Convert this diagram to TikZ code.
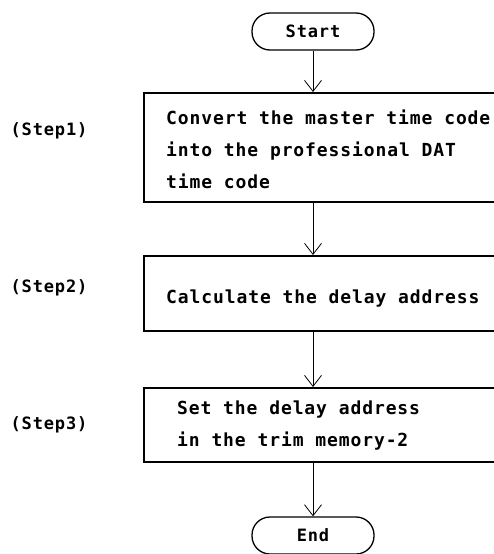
\documentclass[tikz,border=0pt]{standalone}
\usepackage{fontspec}
\usepackage{tikz}
\usetikzlibrary{arrows.meta, positioning}
\newfontfamily\flowfont{DejaVu Sans Mono Bold}[LetterSpace=5]

\begin{document}
\begin{tikzpicture}[x=1pt, y=-1pt,
    terminal/.style={draw, line width=1.3pt, rounded corners=18pt, minimum width=122pt, minimum height=37pt, inner sep=0pt, font=\flowfont\fontsize{17}{20}\selectfont},
    stepbox/.style={draw, line width=2.4pt, anchor=north west, minimum width=384pt},
    steptext/.style={anchor=west, align=left, inner sep=0pt, font=\flowfont\fontsize{18}{32}\selectfont},
    steplabel/.style={font=\flowfont\fontsize{17}{20}\selectfont},
    arrow/.style={-{Straight Barb[length=11pt, width=17pt]}, line width=0.8pt},
]
\useasboundingbox (0,0) rectangle (493,554);

% 端点
\node[terminal] (start) at (313,31.5) {Start};
\node[terminal] (end) at (313,535.5) {End};

% 处理框
\node[stepbox, minimum height=109pt] (conv) at (143,92) {};
\node[stepbox, minimum height=75pt] (calc) at (143,255) {};
\node[stepbox, minimum height=74pt] (trim) at (143,387) {};

% 框内文字
\node[steptext, right=23pt of conv.west, yshift=-2pt] (convtxt)
    {Convert the master time code\\into the professional DAT\\time code};
\node[steptext, right=23pt of calc.west, yshift=-5pt] (calctxt)
    {Calculate the delay address};
\node[steptext, right=34pt of trim.west] (trimtxt)
    {Set the delay address\\in the trim memory-2};

% 步骤标签
\node[steplabel] (lab1) at (49,131) {(Step1)};
\node[steplabel] (lab2) at (49,288) {(Step2)};
\node[steplabel] (lab3) at (49,425) {(Step3)};

% 连线
\draw[arrow] (start.south) -- (start.south |- conv.north);
\draw[arrow] (conv.south -| start) -- (calc.north -| start);
\draw[arrow] (calc.south -| start) -- (trim.north -| start);
\draw[arrow] (trim.south -| start) -- (start |- end.north);

\end{tikzpicture}
\end{document}
